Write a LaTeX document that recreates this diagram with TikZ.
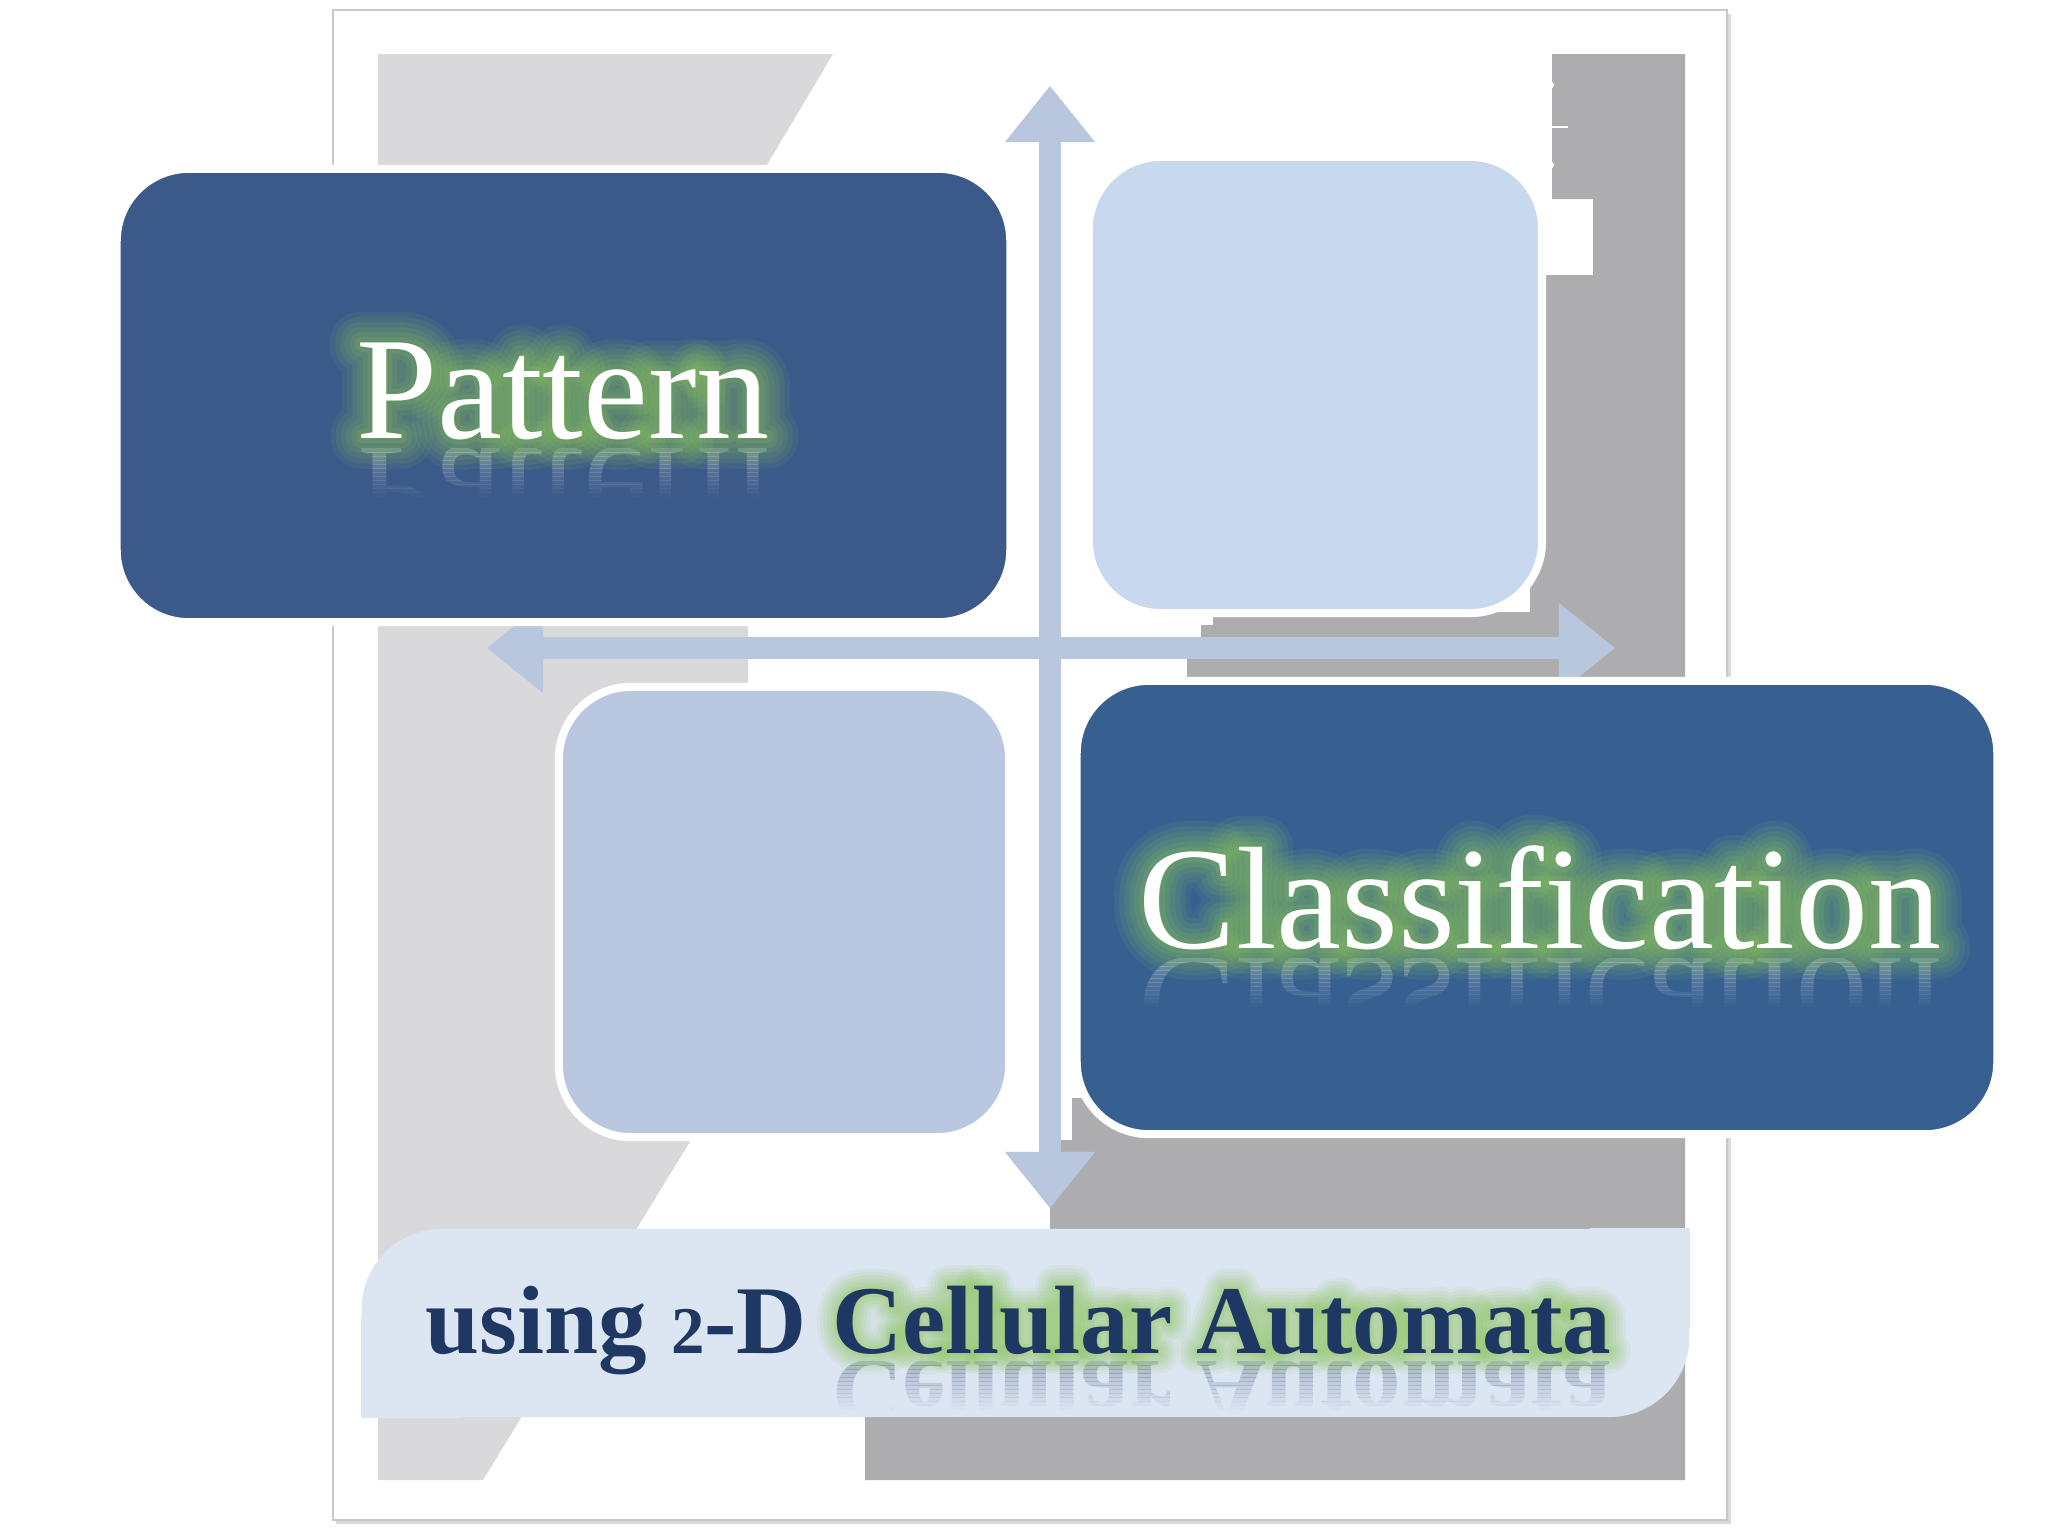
\documentclass[tikz,border=0pt]{standalone}
\usepackage{fontspec}
\setmainfont{Liberation Serif}
\usepackage{tikz}
\usetikzlibrary{positioning,arrows.meta,calc}

\definecolor{framegray}{RGB}{200,200,202}
\definecolor{bglight}{RGB}{217,217,219}
\definecolor{bgdark}{RGB}{173,173,175}
\definecolor{axisblue}{RGB}{184,198,222}
\definecolor{patblue}{RGB}{59,90,137}
\definecolor{clsblue}{RGB}{55,96,145}
\definecolor{paleblue}{RGB}{200,217,239}
\definecolor{midblue}{RGB}{185,200,224}
\definecolor{bannerblue}{RGB}{220,229,242}
\definecolor{navy}{RGB}{31,55,99}
\definecolor{glowgreen}{RGB}{140,196,90}

\newcommand{\emboldened}[1]{\edef\featlist{FakeBold=#1}\expandafter\addfontfeature\expandafter{\featlist}}
% soft halo: a few heavily stroked faint copies, then the text itself
\newcommand{\glowtext}[4]{%
  \foreach \gw/\gop in {42/0.09,35/0.1,28/0.11,21/0.12,14/0.14,7/0.16}{%
    \node[#3,glowcopy,opacity=\gop] (#1-\gw) at (#2) {\emboldened{\gw}#4};
  }%
  \node[#3] (#1) at (#2) {#4};
}
% mirrored copy, fading out in bands
\newcommand{\mirrortext}[5]{%
  \foreach \band in {0,...,11}{%
    \pgfmathsetmacro{\bandop}{#5*(1-\band/12)}
    \begin{scope}
      \clip ($(#2)+(-1000,\band*4)$) rectangle ($(#2)+(1000,\band*4+4)$);
      \node[#3,yscale=-1,transform shape,opacity=\bandop] (#1-\band) at (#2) {#4};
    \end{scope}
  }%
}

\begin{document}
\begin{tikzpicture}[x=0.01cm,y=-0.01cm,
  quad/.style={draw=white,line width=0.08cm,rounded corners=0.72cm,inner sep=0pt},
  crossarrow/.style={draw=axisblue,line width=0.22cm,
    {Triangle[width=0.9cm,length=0.56cm,line width=0pt]}-{Triangle[width=0.9cm,length=0.56cm,line width=0pt]}},
  bigtext/.style={font=\fontsize{41.5}{45}\selectfont,text=white,inner sep=0pt,anchor=base},
  bannertext/.style={font=\fontsize{27.6}{30}\selectfont\bfseries,text=navy,inner sep=0pt,anchor=base west},
  glowcopy/.style={text=glowgreen,line join=round}
]
\useasboundingbox (0,0) rectangle (2048,1536);

% page frame
\fill[black!25,opacity=0.6] (336,14) rectangle (1731,1524);
\filldraw[fill=white,draw=framegray,line width=0.02cm] (333,10) rectangle (1727,1520);

% background shapes
\fill[bglight] (378,54) -- (833,54) -- (740,210) -- (740,600) -- (748,600) -- (748,683)
  -- (748,700) -- (960,700) -- (483,1480) -- (378,1480) -- cycle;
\fill[bgdark] (1552,54) -- (1685,54) -- (1685,1480) -- (865,1480) -- (865,1300) -- (1050,1300)
  -- (1050,1140) -- (1072,1140) -- (1072,1098) -- (1200,1098) -- (1200,679) -- (1187,679)
  -- (1187,637) -- (1201,637) -- (1201,625) -- (1213,625) -- (1213,612) -- (1530,612)
  -- (1530,275) -- (1593,275) -- (1593,199) -- (1552,199) -- cycle;
\fill[white] (1550,85) circle (4) (1550,165) circle (4);
\draw[white,line width=0.02cm] (1548,127) -- (1568,127);

% axes
\coordinate (vtop) at (1050,86);
\coordinate (vbot) at (1050,1208);
\coordinate (hleft) at (487,648);
\coordinate (hright) at (1615,648);
\draw[crossarrow] (vtop) -- (vbot);
\draw[crossarrow] (hleft) -- (hright);

% quadrants
\node[quad,fill=patblue,minimum width=8.93cm,minimum height=4.53cm] (pattern) at (563.5,395.5) {};
\node[quad,fill=paleblue,minimum width=4.53cm,minimum height=4.56cm] (upper) at (1315.5,385) {};
\node[quad,fill=midblue,minimum width=4.5cm,minimum height=4.5cm] (lower) at (784,912) {};
\node[quad,fill=clsblue,minimum width=9.2cm,minimum height=4.53cm] (classes) at (1537,907.5) {};

% banner
\node[fill=bannerblue,rounded corners=0.8cm,minimum width=13.27cm,minimum height=1.88cm,inner sep=0pt] (banner) at (1025.5,1323) {};
\fill[bannerblue] (banner.north east) rectangle ++(-100,100);
\fill[bannerblue] (banner.south west) rectangle ++(100,-100);

% texts
\mirrortext{patternmirror}{563,448}{bigtext}{Pattern}{0.25}
\glowtext{patterntext}{563,438}{bigtext}{Pattern}
\mirrortext{classmirror}{1540,958}{bigtext}{Classification}{0.25}
\glowtext{classtext}{1540,948}{bigtext}{Classification}

\node[bannertext] (usingtext) at (425,1353) {using {\fontsize{19}{19}\selectfont 2}-D};
\coordinate (cellstart) at ($(usingtext.base east)+(24,0)$);
\coordinate (cellflip) at ($(cellstart)+(0,8)$);
\mirrortext{cellmirror}{cellflip}{bannertext}{Cellular Automata}{0.25}
\glowtext{celltext}{cellstart}{bannertext}{Cellular Automata}
\end{tikzpicture}
\end{document}
